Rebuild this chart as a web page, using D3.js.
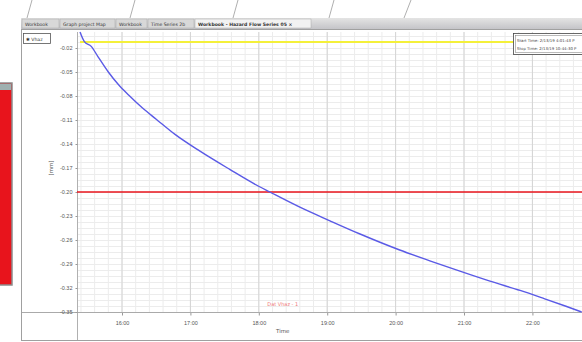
<!DOCTYPE html>
<html>
<head>
<meta charset="utf-8">
<script src="https://cdn.jsdelivr.net/npm/d3@7"></script>
<style>
  html, body { margin: 0; padding: 0; background: #ffffff; }
  svg { display: block; font-family: "DejaVu Sans", Arial, sans-serif; }
</style>
</head>
<body>
<svg id="chart" width="582" height="342"></svg>
<script>
// Time of day (decimal hours) of each logged sample
const timeHours = [15.386, 15.45, 15.55, 15.65, 15.8, 15.95, 16.1, 16.3, 16.5, 16.775, 17.14,
  17.58, 17.99, 18.16, 18.6, 19.04, 19.48, 20.06, 20.5, 20.94, 21.38, 21.82, 22.18, 22.48, 22.72];
// Vhaz displacement [mm]
const vhaz = [0.0, -0.012, -0.018, -0.031, -0.05, -0.066, -0.079, -0.095, -0.109, -0.128, -0.149,
  -0.172, -0.1925, -0.2, -0.219, -0.236, -0.2525, -0.2725, -0.286, -0.299, -0.3115, -0.323, -0.3335, -0.3425, -0.35];
// Reference limits drawn as horizontal lines
const upperLimit = [-0.0125];
const lowerLimit = [-0.20];
// Axis ticks
const xTickHours = [16, 17, 18, 19, 20, 21, 22];
const xTickLabels = ["16:00", "17:00", "18:00", "19:00", "20:00", "21:00", "22:00"];
const yTickValues = [-0.02, -0.05, -0.08, -0.11, -0.14, -0.17, -0.20, -0.23, -0.26, -0.29, -0.32, -0.35];
const yTickLabels = ["-0.02", "-0.05", "-0.08", "-0.11", "-0.14", "-0.17", "-0.20", "-0.23", "-0.26", "-0.29", "-0.32", "-0.35"];
const tabNames = ["Workbook", "Graph project Map", "Workbook", "Time Series 2b", "Workbook - Hazard Flow Series 05"];

const svg = d3.select("#chart");

// ---- application chrome ----
// thin guide strokes above the tab strip
const guides = [[32, 0, 27, 18], [135, 0, 130, 18], [238, 0, 233, 18], [334, 0, 329, 18], [411, 0, 404, 18]];
svg.selectAll("line.guide").data(guides).join("line")
  .attr("x1", d => d[0]).attr("y1", d => d[1]).attr("x2", d => d[2]).attr("y2", d => d[3])
  .attr("stroke", "#9a9a9a").attr("stroke-width", 0.8);

// red side panel
svg.append("rect").attr("x", -1).attr("y", 83).attr("width", 13).attr("height", 202)
  .attr("fill", "#e8141c").attr("stroke", "#8c8c8c").attr("stroke-width", 1.5);
svg.append("rect").attr("x", 0).attr("y", 84).attr("width", 11).attr("height", 6).attr("fill", "#9fb0b0");

// tab strip
const tabGrad = svg.append("defs").append("linearGradient").attr("id", "tabg")
  .attr("x1", 0).attr("y1", 0).attr("x2", 0).attr("y2", 1);
tabGrad.append("stop").attr("offset", "0%").attr("stop-color", "#e4e4e4");
tabGrad.append("stop").attr("offset", "100%").attr("stop-color", "#c4c4c8");
svg.append("rect").attr("x", 21).attr("y", 18).attr("width", 561).attr("height", 11).attr("fill", "url(#tabg)");
const tabX = [22, 60, 116, 148, 195, 312];
tabNames.forEach((name, i) => {
  const active = i === tabNames.length - 1;
  svg.append("rect").attr("x", tabX[i]).attr("y", 19).attr("width", tabX[i + 1] - tabX[i] - 1).attr("height", 9)
    .attr("fill", active ? "#f2f2f2" : "#d8d8d8").attr("stroke", "#a8a8a8").attr("stroke-width", 0.5);
  svg.append("text").attr("x", tabX[i] + 3).attr("y", 26).attr("font-size", 4.6)
    .attr("font-weight", active ? "bold" : "normal").attr("fill", "#333").text(name + (active ? "  ×" : ""));
});

// chart window frame
svg.append("rect").attr("x", 21.5).attr("y", 29.5).attr("width", 562).attr("height", 311)
  .attr("fill", "#ffffff").attr("stroke", "#a0a0a0").attr("stroke-width", 1);

// ---- plot ----
const x = d3.scaleLinear().domain([15.342, 22.725]).range([77, 582]);
const y = d3.scaleLinear().domain([-0.35, 0]).range([312, 32]);

// minor grid
const xMinor = d3.range(15.4, 22.72, 0.2);
svg.selectAll("line.xminor").data(xMinor).join("line")
  .attr("x1", d => x(d)).attr("x2", d => x(d)).attr("y1", 32).attr("y2", 312)
  .attr("stroke", "#ececec").attr("stroke-width", 1);
const yMinor = d3.range(-0.35, 0.0001, 0.0075);
svg.selectAll("line.yminor").data(yMinor).join("line")
  .attr("x1", 77).attr("x2", 582).attr("y1", d => Math.round(y(d)) + 0.5).attr("y2", d => Math.round(y(d)) + 0.5)
  .attr("stroke", "#ececec").attr("stroke-width", 1);
// major grid
svg.selectAll("line.xmajor").data(xTickHours).join("line")
  .attr("x1", d => x(d)).attr("x2", d => x(d)).attr("y1", 32).attr("y2", 312)
  .attr("stroke", "#d4d4d4").attr("stroke-width", 1);

// axes
const xAxis = d3.axisBottom(x).tickValues(xTickHours).tickFormat((d, i) => xTickLabels[i]).tickSize(3);
const gx = svg.append("g").attr("transform", "translate(0,312.5)").call(xAxis);
gx.select(".domain").remove();
gx.selectAll(".tick line").attr("stroke", "#999");
gx.selectAll(".tick text").attr("font-size", 5.5).attr("fill", "#555").attr("dy", "1.1em");
svg.append("line").attr("x1", 22).attr("x2", 582).attr("y1", 312.5).attr("y2", 312.5).attr("stroke", "#aaaaaa");
svg.append("line").attr("x1", 77.5).attr("x2", 77.5).attr("y1", 32).attr("y2", 340).attr("stroke", "#b0b0b0");

const yAxis = d3.axisLeft(y).tickValues(yTickValues).tickFormat((d, i) => yTickLabels[i]).tickSize(2);
const gy = svg.append("g").attr("transform", "translate(77.5,0)").call(yAxis);
gy.select(".domain").remove();
gy.selectAll(".tick line").attr("stroke", "#999");
gy.selectAll(".tick text").attr("font-size", 5.5).attr("fill", "#555");

// axis titles
svg.append("text").attr("x", x(18.35)).attr("y", 333).attr("text-anchor", "middle")
  .attr("font-size", 5.5).attr("fill", "#555").text("Time");
svg.append("text").attr("transform", `translate(53,${y(-0.17)}) rotate(-90)`).attr("text-anchor", "middle")
  .attr("font-size", 5.5).attr("fill", "#555").text("[mm]");

// limit lines
svg.selectAll("line.upper").data(upperLimit).join("line")
  .attr("x1", 80).attr("x2", 582).attr("y1", d => y(d)).attr("y2", d => y(d))
  .attr("stroke", "#f4f03a").attr("stroke-width", 2);
svg.selectAll("line.lower").data(lowerLimit).join("line")
  .attr("x1", 77).attr("x2", 582).attr("y1", d => y(d)).attr("y2", d => y(d))
  .attr("stroke", "#e8141c").attr("stroke-width", 1.6);

// measured series
const line = d3.line().x((d, i) => x(timeHours[i])).y(d => y(d)).curve(d3.curveMonotoneX);
svg.append("path").datum(vhaz).attr("d", line).attr("fill", "none")
  .attr("stroke", "#5a5ae6").attr("stroke-width", 1.4);

// series caption
svg.append("text").attr("x", x(18.35)).attr("y", 306).attr("text-anchor", "middle")
  .attr("font-size", 5).attr("fill", "#f07878").text("Dat Vhaz - 1");

// legend
svg.append("rect").attr("x", 23.5).attr("y", 33.5).attr("width", 27).attr("height", 10)
  .attr("fill", "#ffffff").attr("stroke", "#555").attr("stroke-width", 0.8);
svg.append("text").attr("x", 26).attr("y", 40.5).attr("font-size", 4.6).attr("fill", "#333").text("✱ Vhaz");

// start / stop info box
svg.append("rect").attr("x", 513.5).attr("y", 33.5).attr("width", 70).attr("height", 21)
  .attr("fill", "#ffffff").attr("stroke", "#444").attr("stroke-width", 0.8);
svg.append("rect").attr("x", 515.5).attr("y", 35.5).attr("width", 70).attr("height", 17)
  .attr("fill", "none").attr("stroke", "#777").attr("stroke-width", 0.5);
svg.append("text").attr("x", 517).attr("y", 41.5).attr("font-size", 3.9).attr("fill", "#444").text("Start Time: 2/13/19 4:01:43 P");
svg.append("text").attr("x", 517).attr("y", 50).attr("font-size", 3.9).attr("fill", "#444").text("Stop Time: 2/13/19 10:44:30 P");
</script>
</body>
</html>
